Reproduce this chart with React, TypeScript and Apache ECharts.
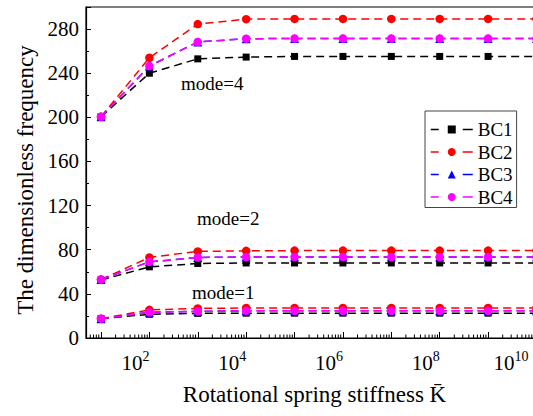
import React, { useEffect, useRef } from "react";
import * as echarts from "echarts";

// Rotational spring stiffness values (x)
const K_VALUES = [1e1, 1e2, 1e3, 1e4, 1e5, 1e6, 1e7, 1e8, 1e9, 1e10];
const BC_NAMES = ["BC1", "BC2", "BC3", "BC4"];
const BC_COLORS = ["#000000", "#ff0000", "#0000ff", "#ff00ff"];
const BC_SYMBOLS = ["rect", "circle", "triangle", "circle"];
const BC_SYMBOL_SIZES = [7, 8.5, 9, 8.5];

// mode = 1
const BC1_MODE1 = [17.5, 21.5, 22.3, 22.5, 22.5, 22.5, 22.5, 22.5, 22.5, 22.5];
const BC2_MODE1 = [17.5, 25.5, 26.8, 27.2, 27.2, 27.2, 27.2, 27.2, 27.2, 27.2];
const BC3_MODE1 = [17.5, 23.3, 24.2, 24.6, 24.6, 24.6, 24.6, 24.6, 24.6, 24.6];
const BC4_MODE1 = [17.5, 23.3, 24.2, 24.6, 24.6, 24.6, 24.6, 24.6, 24.6, 24.6];
// mode = 2
const BC1_MODE2 = [52.5, 64.5, 67.5, 68, 68, 68, 68, 68, 68, 68];
const BC2_MODE2 = [53, 73, 78.5, 79, 79.2, 79.2, 79.2, 79.2, 79.2, 79.2];
const BC3_MODE2 = [53, 69, 73, 73.4, 73.4, 73.4, 73.4, 73.4, 73.4, 73.4];
const BC4_MODE2 = [53, 69, 73, 73.4, 73.4, 73.4, 73.4, 73.4, 73.4, 73.4];
// mode = 4
const BC1_MODE4 = [200.5, 240, 253, 254.6, 255.2, 255.2, 255.2, 255.2, 255.2, 255.2];
const BC2_MODE4 = [200.5, 254, 284.5, 289, 289.2, 289.2, 289.2, 289.2, 289.2, 289.2];
const BC3_MODE4 = [200.5, 246.5, 268.3, 271.3, 271.4, 271.4, 271.4, 271.4, 271.4, 271.4];
const BC4_MODE4 = [200.5, 246.5, 268.3, 271.3, 271.4, 271.4, 271.4, 271.4, 271.4, 271.4];

const BC_DATA = [
  [BC1_MODE1, BC1_MODE2, BC1_MODE4],
  [BC2_MODE1, BC2_MODE2, BC2_MODE4],
  [BC3_MODE1, BC3_MODE2, BC3_MODE4],
  [BC4_MODE1, BC4_MODE2, BC4_MODE4],
];

// axis decorations
const Y_MIN = 0;
const Y_MAX = 300;
const Y_INTERVAL = 40;
const X_MIN = Math.pow(10, 0.69);
const X_MAX = Math.pow(10, 10.3);
const DECADES = [1, 10, 1e2, 1e3, 1e4, 1e5, 1e6, 1e7, 1e8, 1e9, 1e10];
const MINOR_MULTIPLIERS = [2, 3, 4, 5, 6, 7, 8, 9];

const MODE_LABELS = [
  { text: "mode=4", x: 181, y: 83 },
  { text: "mode=2", x: 197, y: 218 },
  { text: "mode=1", x: 192, y: 292 },
];

const FONT = "'Liberation Serif', 'Times New Roman', serif";

// the plot frame runs past the right edge of the 533px picture
const CHART_WIDTH = 560;

export default function App() {
  const ref = useRef<HTMLDivElement>(null);

  useEffect(() => {
    if (!ref.current) return;
    const chart = echarts.init(ref.current, undefined, { renderer: "svg" });

    const series: any[] = [];
    BC_NAMES.forEach((name, b) => {
      BC_DATA[b].forEach((vals) => {
        series.push({
          type: "line",
          name,
          data: K_VALUES.map((k, i) => [k, vals[i]]),
          symbol: BC_SYMBOLS[b],
          symbolSize: BC_SYMBOL_SIZES[b],
          showAllSymbol: true,
          lineStyle: { color: BC_COLORS[b], width: 1.5, type: [8, 5] },
          itemStyle: { color: BC_COLORS[b] },
          clip: false,
          silent: true,
          z: 3 + b,
        });
      });
    });

    const minorData: number[][] = [];
    DECADES.forEach((d) => {
      MINOR_MULTIPLIERS.forEach((m) => {
        const v = d * m;
        if (v > X_MIN && v < X_MAX) minorData.push([v, Y_MIN]);
      });
    });

    series.push({
      type: "custom",
      silent: true,
      clip: true,
      data: minorData,
      renderItem: (params: any, api: any) => {
        const p = api.coord([api.value(0), api.value(1)]);
        return {
          type: "line",
          shape: { x1: p[0], y1: p[1], x2: p[0], y2: p[1] - 3.5 },
          style: { stroke: "#000", lineWidth: 1 },
        };
      },
      z: 10,
    });

    const supStyle = { fontFamily: FONT, fontSize: 14, lineHeight: 14, color: "#000", verticalAlign: "top" };

    chart.setOption({
      animation: false,
      backgroundColor: "#ffffff",
      grid: {
        left: 86,
        right: CHART_WIDTH - 551,
        top: 7,
        bottom: 78,
        show: true,
        borderColor: "#000",
        borderWidth: 1.2,
        backgroundColor: "transparent",
      },
      legend: {
        data: BC_NAMES,
        orient: "vertical",
        left: 425,
        top: 111,
        padding: [9, 4, 1, 5],
        itemWidth: 42,
        itemHeight: 10,
        itemGap: 3.5,
        borderColor: "#444",
        borderWidth: 1,
        selectedMode: false,
        lineStyle: { type: [8, 24, 10, 100], width: 1.5 },
        textStyle: { fontFamily: FONT, fontSize: 19, color: "#000", lineHeight: 18 },
      },
      xAxis: {
        type: "log",
        logBase: 10,
        min: X_MIN,
        max: X_MAX,
        name: "Rotational spring stiffness K\u0304",
        nameLocation: "middle",
        nameGap: 45,
        nameTextStyle: { fontFamily: FONT, fontSize: 23, color: "#000", padding: [0, 8, 0, 0] },
        axisLine: { show: true, lineStyle: { color: "#000", width: 1.2 } },
        axisTick: { show: true, inside: true, length: 6, lineStyle: { color: "#000", width: 1 } },
        splitLine: { show: false },
        axisLabel: {
          margin: 11,
          align: "right",
          color: "#000",
          fontFamily: FONT,
          formatter: (v: number) => {
            const e = Math.log10(v);
            const r = Math.round(e);
            if (Math.abs(e - r) > 1e-6 || r % 2 !== 0) return "";
            if (r >= 10) return `{b|10}{supEnd|${r}}`;
            return `{b|10}{sup|${r}}`;
          },
          rich: {
            b: { fontFamily: FONT, fontSize: 21, lineHeight: 24, color: "#000", verticalAlign: "bottom" },
            sup: supStyle,
            supEnd: { ...supStyle, padding: [0, 8, 0, 0] },
          },
        },
      },
      yAxis: {
        type: "value",
        min: Y_MIN,
        max: Y_MAX,
        interval: Y_INTERVAL,
        name: "The dimensionless frequency",
        nameLocation: "middle",
        nameGap: 44,
        nameTextStyle: { fontFamily: FONT, fontSize: 23, color: "#000", padding: [0, 15, 0, 0] },
        axisLine: { show: true, lineStyle: { color: "#000", width: 1.2 } },
        axisTick: { show: true, inside: true, length: 5, lineStyle: { color: "#000", width: 1 } },
        minorTick: { show: true, splitNumber: 2, length: 3, lineStyle: { color: "#000", width: 1 } },
        splitLine: { show: false },
        axisLabel: {
          margin: 7,
          color: "#000",
          fontFamily: FONT,
          fontSize: 21,
          formatter: (v: number) => (v > 280 ? "" : String(v)),
        },
      },
      graphic: MODE_LABELS.map((m) => ({
        type: "text",
        x: m.x,
        y: m.y,
        silent: true,
        style: {
          text: m.text,
          fontFamily: FONT,
          fontSize: 19,
          fill: "#000",
          align: "left",
          verticalAlign: "middle",
        },
      })),
      series,
    });

    return () => chart.dispose();
  }, []);

  return (
    <div style={{ position: "fixed", left: 0, top: 0, width: 533, height: 416, overflow: "hidden", background: "#fff" }}>
      <div ref={ref} style={{ width: CHART_WIDTH, height: 416 }} />
    </div>
  );
}
